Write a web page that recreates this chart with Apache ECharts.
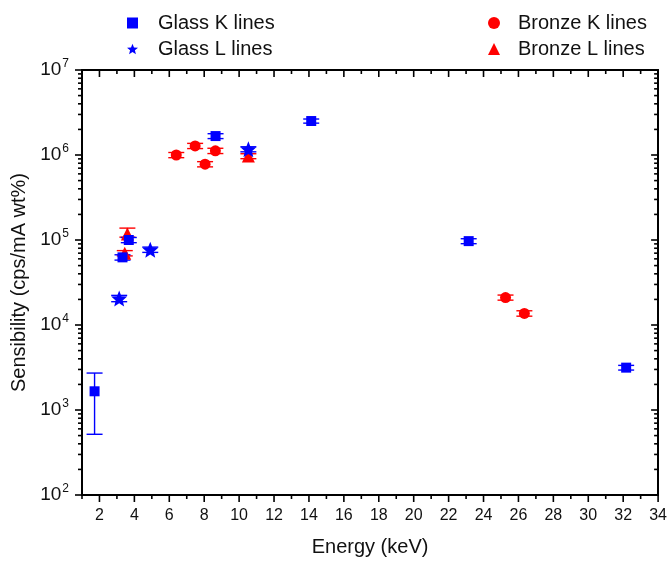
<!DOCTYPE html>
<html>
<head>
<meta charset="utf-8">
<script src="https://cdn.jsdelivr.net/npm/echarts@6/dist/echarts.min.js"></script>
<style>html,body{margin:0;padding:0;background:#fff;}#c{width:670px;height:562px;}</style>
</head>
<body>
<div id="c"></div>
<script>
// ---- data ----
const glassK_x  = [1.72, 3.32, 3.68, 8.65, 14.13, 23.15, 32.17];
const glassK_y  = [1660, 62500, 100000, 1670000, 2510000, 97000, 3150];
const glassK_lo = [518, 58000, 93000, 1560000, 2370000, 90500, 2950];
const glassK_hi = [2720, 67000, 107000, 1780000, 2650000, 103500, 3350];

const glassL_x  = [3.13, 4.91, 10.53];
const glassL_y  = [20500, 77000, 1170000];
const glassL_lo = [18800, 71500, 1090000];
const glassL_hi = [22300, 82500, 1250000];

const bronzeK_x  = [6.40, 7.48, 8.05, 8.64, 25.26, 26.34];
const bronzeK_y  = [1000000, 1280000, 780000, 1120000, 21000, 13700];
const bronzeK_lo = [930000, 1190000, 725000, 1040000, 19600, 12700];
const bronzeK_hi = [1070000, 1370000, 835000, 1200000, 22500, 14700];

const bronzeL_x  = [3.45, 3.60, 10.53];
const bronzeL_y  = [70000, 118000, 970000];
const bronzeL_lo = [65000, 108000, 905000];
const bronzeL_hi = [75000, 138000, 1035000];

const seriesNames = ['Glass K lines', 'Glass L lines', 'Bronze K lines', 'Bronze L lines'];
const xTickValues = [1,2,3,4,5,6,7,8,9,10,11,12,13,14,15,16,17,18,19,20,21,22,23,24,25,26,27,28,29,30,31,32,33,34];
const yMajorTicks = [1e2, 1e3, 1e4, 1e5, 1e6, 1e7];
const yMinorMult = [2,3,4,5,6,7,8,9];

// ---- styles ----
const BLUE = '#0000ff', RED = '#ff0000';
const FONT = "'Liberation Sans', Arial, sans-serif";
const STAR = 'path://M50 0 L62.93 32.2 L97.55 34.55 L70.92 56.8 L79.39 90.45 L50 72 L20.61 90.45 L29.08 56.8 L2.45 34.55 L37.07 32.2 Z';

function pts(xs, ys){ return xs.map((x,i)=>[x, ys[i]]); }
function errs(xs, lo, hi){ return xs.map((x,i)=>[x, lo[i], hi[i]]); }

function errRender(params, api){
  const x = api.value(0), lo = api.value(1), hi = api.value(2);
  const pHi = api.coord([x, hi]), pLo = api.coord([x, lo]);
  const cap = 8;
  const st = {stroke: api.visual('color'), lineWidth: 1.4};
  return {type:'group', children:[
    {type:'line', shape:{x1:pHi[0], y1:pHi[1], x2:pLo[0], y2:pLo[1]}, style:st},
    {type:'line', shape:{x1:pHi[0]-cap, y1:pHi[1], x2:pHi[0]+cap, y2:pHi[1]}, style:st},
    {type:'line', shape:{x1:pLo[0]-cap, y1:pLo[1], x2:pLo[0]+cap, y2:pLo[1]}, style:st}
  ]};
}

function errSeries(color, data){
  return {type:'custom', data:data, renderItem:errRender, itemStyle:{color:color},
    encode:{x:0, y:[1,2]}, z:3, silent:true, clip:false};
}

function decorRender(params, api){
  const cs = params.coordSys;
  const children = [];
  const st = {stroke:'#000', lineWidth:1.6};
  const yb = cs.y + cs.height, yt = cs.y, xl = cs.x, xr = cs.x + cs.width;
  xTickValues.forEach(v=>{
    const px = api.coord([v, 1000])[0];
    const len = (v % 2 === 0) ? 7 : 4;
    children.push({type:'line', shape:{x1:px, y1:yb, x2:px, y2:yb+len}, style:st});
    children.push({type:'line', shape:{x1:px, y1:yt, x2:px, y2:yt+len}, style:st});
  });
  yMajorTicks.forEach(v=>{
    const py = api.coord([5, v])[1];
    children.push({type:'line', shape:{x1:xl-7, y1:py, x2:xl, y2:py}, style:st});
    children.push({type:'line', shape:{x1:xr-7, y1:py, x2:xr, y2:py}, style:st});
  });
  yMajorTicks.slice(0, -1).forEach(d=>{
    yMinorMult.forEach(m=>{
      const py = api.coord([5, d*m])[1];
      children.push({type:'line', shape:{x1:xl-4, y1:py, x2:xl, y2:py}, style:st});
      children.push({type:'line', shape:{x1:xr-4, y1:py, x2:xr, y2:py}, style:st});
    });
  });
  return {type:'group', children:children};
}

const legendText = {fontFamily:FONT, fontSize:20, color:'#111', padding:[0,0,0,15]};

const option = {
  animation:false,
  backgroundColor:'#fff',
  grid:{left:82, right:6, top:70, bottom:66, containLabel:false},
  legend:[
    {orient:'vertical', left:122, top:8, itemWidth:11, itemHeight:11, itemGap:6,
     textStyle:legendText,
     data:[{name:seriesNames[0], icon:'rect'}, {name:seriesNames[1], icon:STAR}]},
    {orient:'vertical', left:483, top:8, itemWidth:12, itemHeight:12, itemGap:6,
     textStyle:Object.assign({}, legendText, {padding:[0,0,0,13]}),
     data:[{name:seriesNames[2], icon:'circle'}, {name:seriesNames[3], icon:'triangle'}]}
  ],
  xAxis:[
    {type:'value', position:'bottom', min:1, max:34, interval:1,
     axisLine:{show:true, onZero:false, lineStyle:{color:'#000', width:2}},
     axisTick:{show:false}, splitLine:{show:false},
     axisLabel:{fontFamily:FONT, fontSize:16, color:'#111', margin:13,
       formatter:v=> (v % 2 === 0 ? String(v) : '')},
     name:'Energy (keV)', nameLocation:'middle', nameGap:42,
     nameTextStyle:{fontFamily:FONT, fontSize:20, color:'#111', verticalAlign:'top'}},
    {type:'value', position:'top', min:1, max:34, interval:1,
     axisLine:{show:true, onZero:false, lineStyle:{color:'#000', width:2}},
     axisTick:{show:false}, axisLabel:{show:false}, splitLine:{show:false}}
  ],
  yAxis:[
    {type:'log', logBase:10, position:'left', min:100, max:1e7,
     axisLine:{show:true, onZero:false, lineStyle:{color:'#000', width:2}},
     axisTick:{show:false}, splitLine:{show:false}, minorTick:{show:false},
     axisLabel:{margin:13, color:'#111',
       formatter:v=> '{b|10}{s|' + Math.round(Math.log10(v)) + '}',
       rich:{b:{fontFamily:FONT, fontSize:19, color:'#111'},
             s:{fontFamily:FONT, fontSize:12, color:'#111', padding:[0,0,12,1]}}},
     name:'Sensibility (cps/mA wt%)', nameLocation:'middle', nameGap:46, nameRotate:90,
     nameTextStyle:{fontFamily:FONT, fontSize:20, color:'#111'}},
    {type:'log', logBase:10, position:'right', min:100, max:1e7,
     axisLine:{show:true, onZero:false, lineStyle:{color:'#000', width:2}},
     axisTick:{show:false}, axisLabel:{show:false}, splitLine:{show:false}}
  ],
  series:[
    {type:'custom', name:'decor', data:[[5, 1000]], renderItem:decorRender, silent:true, clip:false, z:10,
     encode:{x:0, y:1}},
    errSeries(RED, errs(bronzeK_x, bronzeK_lo, bronzeK_hi)),
    errSeries(RED, errs(bronzeL_x, bronzeL_lo, bronzeL_hi)),
    errSeries(BLUE, errs(glassK_x, glassK_lo, glassK_hi)),
    errSeries(BLUE, errs(glassL_x, glassL_lo, glassL_hi)),
    {type:'scatter', name:seriesNames[3], data:pts(bronzeL_x, bronzeL_y), symbol:'triangle', symbolSize:13,
     itemStyle:{color:RED, opacity:1}, z:4},
    {type:'scatter', name:seriesNames[2], data:pts(bronzeK_x, bronzeK_y), symbol:'circle', symbolSize:11,
     itemStyle:{color:RED, opacity:1}, z:4},
    {type:'scatter', name:seriesNames[0], data:pts(glassK_x, glassK_y), symbol:'rect', symbolSize:10,
     itemStyle:{color:BLUE, opacity:1}, z:5},
    {type:'scatter', name:seriesNames[1], data:pts(glassL_x, glassL_y), symbol:STAR, symbolSize:16,
     itemStyle:{color:BLUE, opacity:1}, z:5}
  ]
};

const chart = echarts.init(document.getElementById('c'), null, {renderer:'canvas'});
chart.setOption(option);
</script>
</body>
</html>
